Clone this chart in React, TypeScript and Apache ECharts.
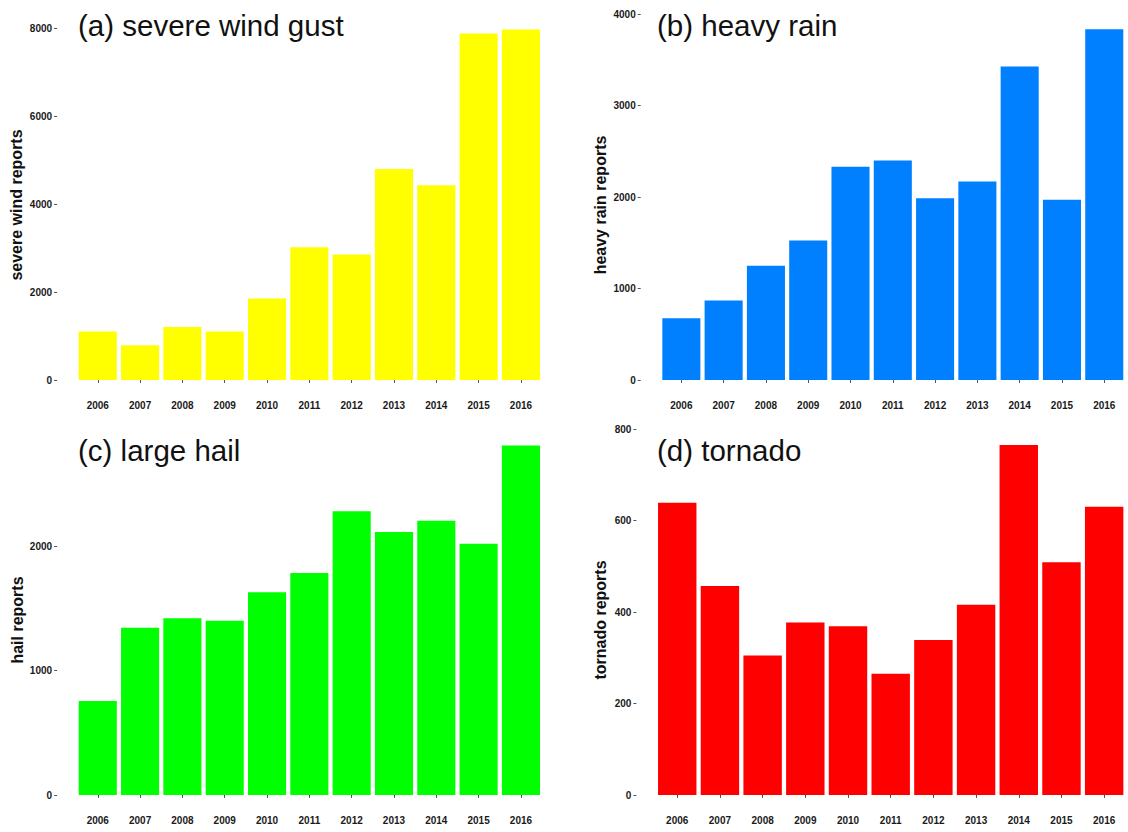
import React, { useEffect, useRef } from "react";
import * as echarts from "echarts";

const years = ["2006", "2007", "2008", "2009", "2010", "2011", "2012", "2013", "2014", "2015", "2016"];
const windGust = [1100, 790, 1205, 1100, 1855, 3015, 2850, 4795, 4425, 7875, 7965];
const heavyRain = [675, 870, 1250, 1525, 2330, 2400, 1985, 2170, 3425, 1970, 3832];
const largeHail = [755, 1345, 1420, 1400, 1630, 1785, 2280, 2115, 2205, 2020, 2810];
const tornado = [639, 457, 305, 377, 369, 265, 339, 416, 765, 509, 630];

const windTicks = [0, 2000, 4000, 6000, 8000];
const rainTicks = [0, 1000, 2000, 3000, 4000];
const hailTicks = [0, 1000, 2000];
const tornadoTicks = [0, 200, 400, 600, 800];

const panels = [
  { title: "(a) severe wind gust", yName: "severe wind reports", data: windGust, ticks: windTicks, max: 8000, interval: 2000, color: "#FFFF00",
    grid: { left: 76.6, top: 28, width: 465.5, height: 352 }, titlePos: [78, 25], namePos: [16, 205] },
  { title: "(b) heavy rain", yName: "heavy rain reports", data: heavyRain, ticks: rainTicks, max: 4000, interval: 1000, color: "#0080FF",
    grid: { left: 660.2, top: 14, width: 465.2, height: 366 }, titlePos: [657, 25], namePos: [600, 205] },
  { title: "(c) large hail", yName: "hail reports", data: largeHail, ticks: hailTicks, max: 3000, interval: 1000, color: "#00FF00",
    grid: { left: 76.6, top: 421.8, width: 465.5, height: 373.2 }, titlePos: [78, 450], namePos: [17, 620] },
  { title: "(d) tornado", yName: "tornado reports", data: tornado, ticks: tornadoTicks, max: 800, interval: 200, color: "#FF0000",
    grid: { left: 655.9, top: 429, width: 469.6, height: 366 }, titlePos: [657, 450], namePos: [600, 620] },
];

const FONT = "'Liberation Sans', Arial, Helvetica, sans-serif";

export default function App() {
  const ref = useRef<HTMLDivElement>(null);
  useEffect(() => {
    if (!ref.current) return;
    const chart = echarts.init(ref.current, undefined, { renderer: "svg" });
    const labelStyle = { color: "#1a1a1a", fontWeight: "bold" as const, fontSize: 10, fontFamily: FONT };
    const option: any = {
      animation: false,
      backgroundColor: "#ffffff",
      grid: panels.map((p) => ({ ...p.grid, containLabel: false })),
      xAxis: panels.map((p, i) => ({
        type: "category",
        gridIndex: i,
        data: years,
        offset: 17,
        axisLine: { show: false },
        axisTick: { show: true, alignWithLabel: true, length: 3, lineStyle: { color: "#555", width: 1 } },
        axisLabel: { ...labelStyle, margin: 3, interval: 0 },
        splitLine: { show: false },
      })),
      yAxis: panels.map((p, i) => ({
        type: "value",
        gridIndex: i,
        min: 0,
        max: p.max,
        interval: p.interval,
        offset: 19.5,
        axisLine: { show: false },
        axisTick: { show: true, length: 3, lineStyle: { color: "#555", width: 1 }, customValues: p.ticks },
        axisLabel: { ...labelStyle, margin: 5, customValues: p.ticks, formatter: (v: number) => String(v) },
        splitLine: { show: false },
      })),
      series: panels.map((p, i) => ({
        type: "bar",
        name: p.yName,
        xAxisIndex: i,
        yAxisIndex: i,
        data: p.data,
        barCategoryGap: "10%",
        itemStyle: { color: p.color },
      })),
      graphic: [
        ...panels.map((p) => ({
          type: "text",
          x: p.titlePos[0],
          y: p.titlePos[1],
          style: { text: p.title, fontSize: 29.5, fontFamily: FONT, fill: "#111", align: "left", verticalAlign: "middle" },
        })),
        ...panels.map((p) => ({
          type: "text",
          x: p.namePos[0],
          y: p.namePos[1],
          rotation: Math.PI / 2,
          style: { text: p.yName, fontSize: 16, fontWeight: "bold", fontFamily: FONT, fill: "#111", align: "center", verticalAlign: "middle" },
        })),
      ],
    };
    chart.setOption(option);
    return () => chart.dispose();
  }, []);
  return <div ref={ref} style={{ position: "fixed", left: 0, top: 0, width: 1128, height: 832, background: "#fff" }} />;
}
